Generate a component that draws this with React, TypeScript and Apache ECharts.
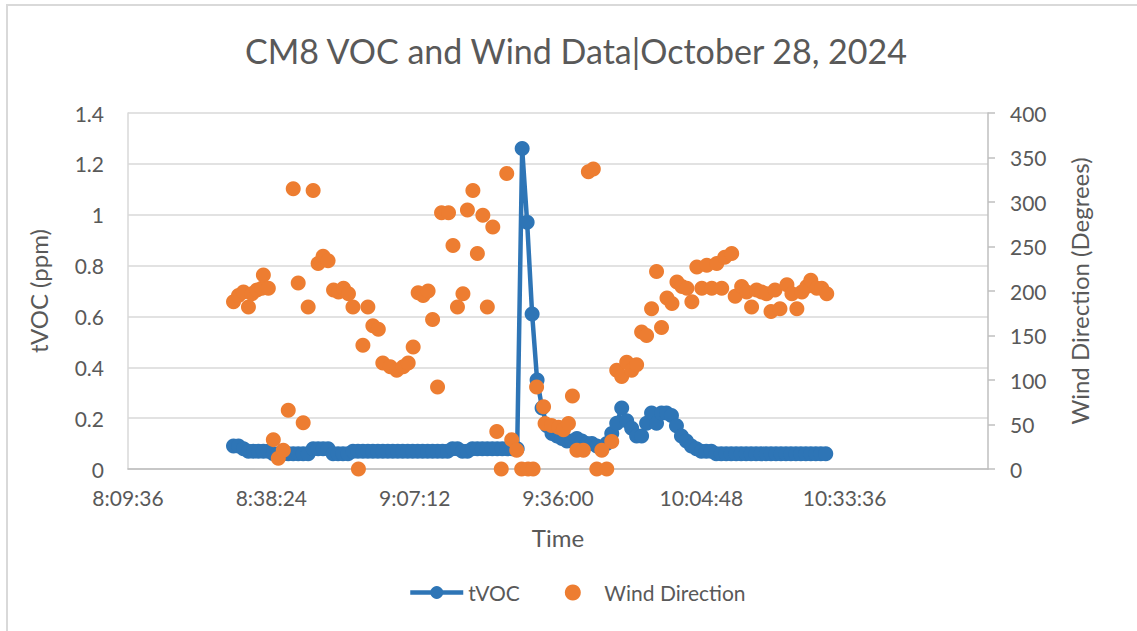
import React, { useEffect, useRef } from "react";
import * as echarts from "echarts";

// Chart text
const chartTitle = "CM8 VOC and Wind Data|October 28, 2024";
const leftAxisName = "tVOC (ppm)";
const rightAxisName = "Wind Direction (Degrees)";
const xAxisName = "Time";
const seriesNames = ["tVOC", "Wind Direction"];

// X axis (minutes since midnight): 8:09:36 .. 11:02:24, step 28:48
const xMin = 489.6;
const xMax = 662.4;
const xStep = 28.8;

// tVOC: one reading per minute starting at 8:30:48
const tvocStartMinutes = 510.8;
const tvoc = [
  0.09, 0.09, 0.08, 0.07, 0.07, 0.07, 0.07, 0.07, 0.06, 0.06,
  0.06, 0.06, 0.06, 0.06, 0.06, 0.06, 0.08, 0.08, 0.08, 0.08,
  0.06, 0.06, 0.06, 0.06, 0.07, 0.07, 0.07, 0.07, 0.07, 0.07,
  0.07, 0.07, 0.07, 0.07, 0.07, 0.07, 0.07, 0.07, 0.07, 0.07,
  0.07, 0.07, 0.07, 0.07, 0.08, 0.08, 0.07, 0.07, 0.08, 0.08,
  0.08, 0.08, 0.08, 0.08, 0.08, 0.08, 0.08, 0.08, 1.26, 0.97,
  0.61, 0.35, 0.24, 0.17, 0.14, 0.13, 0.12, 0.11, 0.11, 0.12,
  0.11, 0.10, 0.10, 0.09, 0.08, 0.10, 0.14, 0.18, 0.24, 0.19,
  0.16, 0.13, 0.13, 0.18, 0.22, 0.18, 0.22, 0.22, 0.21, 0.17,
  0.13, 0.11, 0.09, 0.08, 0.07, 0.07, 0.07, 0.06, 0.06, 0.06,
  0.06, 0.06, 0.06, 0.06, 0.06, 0.06, 0.06, 0.06, 0.06, 0.06,
  0.06, 0.06, 0.06, 0.06, 0.06, 0.06, 0.06, 0.06, 0.06, 0.06,
];

// Wind direction readings: minutes after 8:00 and degrees
const windMinutesAfter8 = [
  30.8, 31.8, 32.8, 33.8, 34.5, 35.5, 36.5, 36.8, 37.8, 38.8,
  39.8, 40.8, 41.8, 42.8, 43.8, 44.8, 45.8, 46.8, 47.8, 48.8,
  49.8, 50.9, 51.9, 52.9, 53.9, 54.8, 55.9, 56.8, 57.8, 58.8,
  59.9, 60.8, 62.3, 63.6, 64.9, 65.9, 66.9, 67.9, 68.9, 69.9,
  70.8, 71.8, 72.6, 74.0, 74.9, 75.8, 76.9, 77.8, 78.9, 79.8,
  80.9, 81.8, 82.9, 83.7, 84.6, 85.7, 86.7, 87.7, 88.7, 90.0,
  91.0, 91.7, 93.1, 93.4, 94.7, 96.1, 97.1, 98.1, 98.9, 99.8,
  101.1, 102.1, 103.1, 103.8, 104.8, 105.8, 106.8, 107.8, 108.8, 109.8,
  110.8, 111.8, 112.8, 113.8, 114.8, 115.8, 116.8, 117.9, 118.9, 119.9,
  120.9, 121.9, 122.9, 123.9, 124.9, 125.9, 126.9, 127.9, 128.9, 129.5,
  130.9, 131.6, 132.9, 133.9, 134.9, 135.9, 136.9, 137.9, 138.8, 139.6,
  140.6, 142.0, 143.0, 144.0, 145.0, 146.0, 146.8, 148.0, 149.0, 150.0,
];
const windDegrees = [
  188, 195, 199, 182, 197, 201, 203, 218, 203, 33,
  12, 21, 66, 315, 209, 52, 182, 313, 231, 239,
  234, 201, 199, 203, 197, 182, 0, 139, 182, 161,
  157, 119, 115, 111, 115, 119, 137, 198, 195, 200,
  168, 92, 288, 288, 251, 182, 197, 291, 313, 242,
  285, 182, 272, 42, 0, 332, 33, 21, 0, 0,
  0, 92, 70, 51, 49, 47, 44, 51, 82, 21,
  21, 334, 337, 0, 21, 0, 31, 111, 104, 120,
  111, 117, 154, 150, 180, 222, 159, 192, 186, 210,
  205, 203, 188, 227, 203, 229, 203, 231, 203, 238,
  242, 194, 205, 199, 182, 201, 199, 197, 177, 201,
  180, 207, 197, 180, 199, 205, 212, 203, 203, 197,
];

const FONT = "Lato, 'Open Sans', sans-serif";
const TEXT = "#595959";
const BLUE = "#2E75B6";
const ORANGE = "#ED7D31";

function fmtTime(v: number): string {
  const total = Math.round(v * 60);
  const h = Math.floor(total / 3600);
  const m = Math.floor((total % 3600) / 60);
  const s = total % 60;
  return `${h}:${String(m).padStart(2, "0")}:${String(s).padStart(2, "0")}`;
}

export default function App() {
  const ref = useRef<HTMLDivElement>(null);

  useEffect(() => {
    if (!ref.current) return;
    const chart = echarts.init(ref.current, undefined, { renderer: "svg" });

    const tvocData = tvoc.map((v, i) => [tvocStartMinutes + i, v]);
    const windData = windDegrees.map((d, i) => [480 + windMinutesAfter8[i], d]);

    chart.setOption({
      animation: false,
      backgroundColor: "#ffffff",
      textStyle: { fontFamily: FONT, color: TEXT },
      graphic: [
        {
          type: "rect",
          shape: { x: 7, y: 5, width: 1150, height: 650 },
          style: { fill: "none", stroke: "#d9d9d9", lineWidth: 2 },
          silent: true,
        },
        {
          type: "text",
          x: 576,
          y: 50,
          style: {
            text: chartTitle,
            font: `34px ${FONT}`,
            fill: TEXT,
            textAlign: "center",
            textVerticalAlign: "middle",
          },
        },
      ],
      legend: {
        left: 403,
        top: 577,
        itemWidth: 53,
        itemHeight: 16,
        itemGap: 45,
        lineStyle: { width: 4.5 },
        textStyle: { fontFamily: FONT, fontSize: 21, color: TEXT },
        data: seriesNames,
      },
      grid: { left: 128, right: 149, top: 113, bottom: 162, containLabel: false },
      xAxis: {
        type: "value",
        min: xMin,
        max: xMax,
        interval: xStep,
        name: xAxisName,
        nameLocation: "middle",
        nameGap: 56,
        nameTextStyle: { fontFamily: FONT, fontSize: 24, color: TEXT },
        axisLine: { show: true, lineStyle: { color: "#bfbfbf", width: 1.5 } },
        axisTick: { show: false },
        splitLine: { show: false },
        axisLabel: {
          showMaxLabel: false,
          margin: 18,
          fontFamily: FONT,
          fontSize: 21,
          color: TEXT,
          formatter: (v: number) => fmtTime(v),
        },
      },
      yAxis: [
        {
          type: "value",
          min: 0,
          max: 1.4,
          interval: 0.2,
          name: leftAxisName,
          nameLocation: "middle",
          nameGap: 78,
          nameTextStyle: { fontFamily: FONT, fontSize: 24, color: TEXT },
          axisLine: { show: true, lineStyle: { color: "#d9d9d9", width: 1.5 } },
          axisTick: { show: false },
          splitLine: { show: true, lineStyle: { color: "#d9d9d9", width: 1.5 } },
          axisLabel: {
            margin: 24,
            fontFamily: FONT,
            fontSize: 21,
            color: TEXT,
            formatter: (v: number) => String(Math.round(v * 10) / 10),
          },
        },
        {
          type: "value",
          min: 0,
          max: 400,
          interval: 50,
          name: rightAxisName,
          nameLocation: "middle",
          nameGap: 79,
          nameTextStyle: { fontFamily: FONT, fontSize: 24, color: TEXT },
          axisLine: { show: true, lineStyle: { color: "#bfbfbf", width: 1.5 } },
          axisTick: { show: true, length: 7, lineStyle: { color: "#bfbfbf", width: 1.5 } },
          splitLine: { show: false },
          axisLabel: {
            margin: 22,
            fontFamily: FONT,
            fontSize: 21,
            color: TEXT,
          },
        },
      ],
      series: [
        {
          name: seriesNames[0],
          type: "line",
          yAxisIndex: 0,
          data: tvocData,
          showAllSymbol: true,
          symbol: "circle",
          symbolSize: 15,
          lineStyle: { color: BLUE, width: 4.5 },
          itemStyle: { color: BLUE, opacity: 1 },
          z: 2,
        },
        {
          name: seriesNames[1],
          type: "scatter",
          yAxisIndex: 1,
          data: windData,
          symbol: "circle",
          symbolSize: 15,
          itemStyle: { color: ORANGE, opacity: 1 },
          z: 3,
        },
      ],
    });

    return () => chart.dispose();
  }, []);

  return (
    <div
      ref={ref}
      style={{ position: "fixed", left: 0, top: 0, width: 1137, height: 631, background: "#fff" }}
    />
  );
}
